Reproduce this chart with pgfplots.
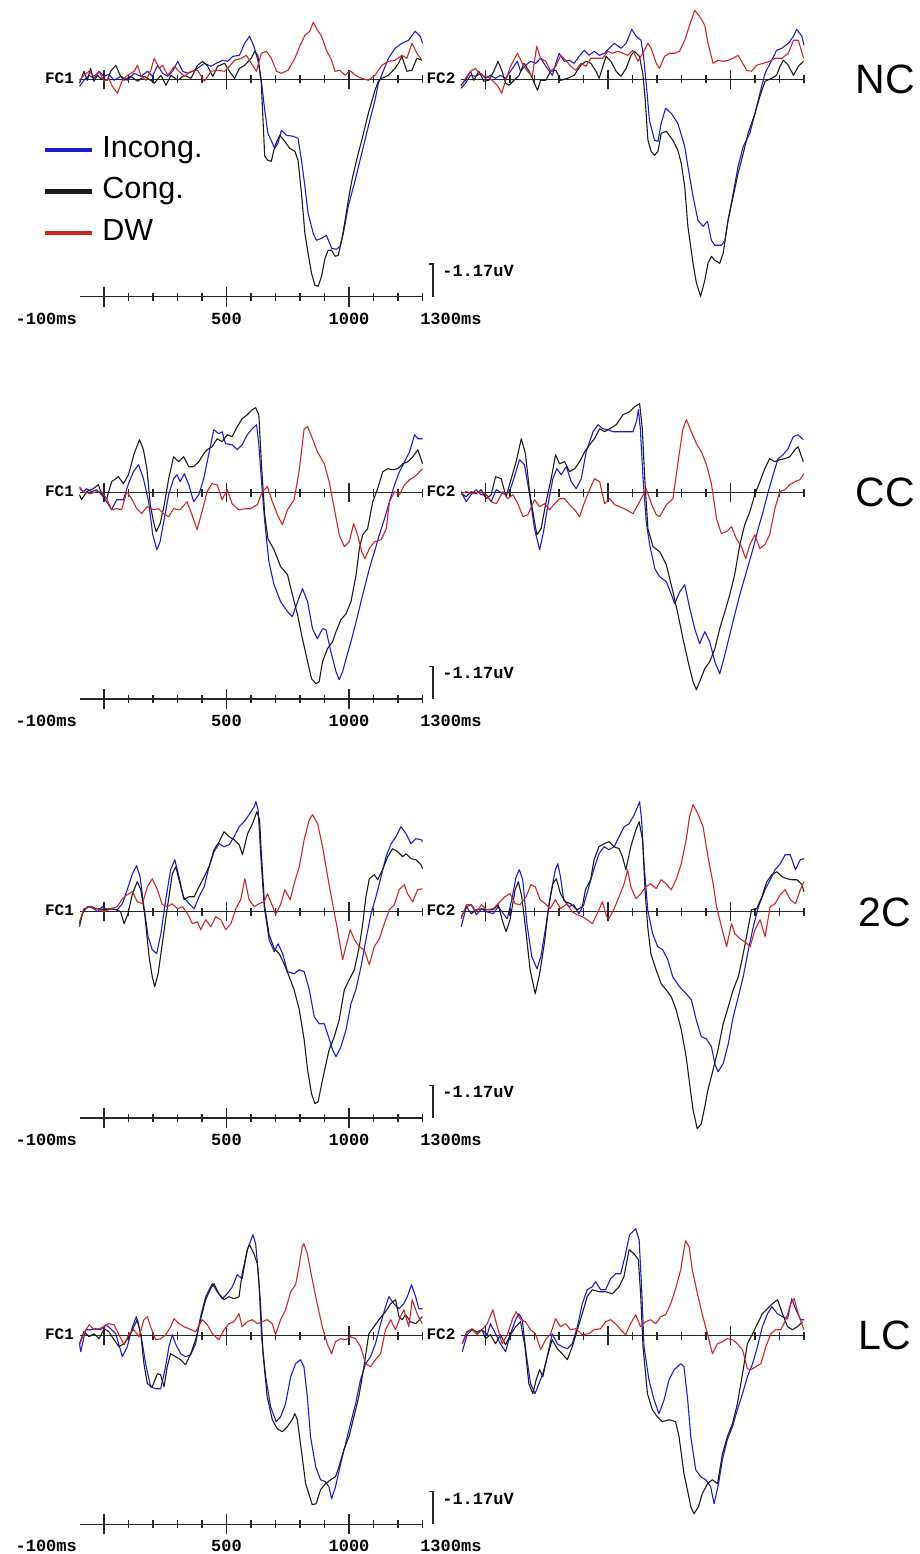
\documentclass[border=0pt]{standalone}
\usepackage{fontspec}
\setmainfont{Liberation Sans}
\newfontfamily\scopefont{Liberation Mono}
\usepackage{pgfplots}
\pgfplotsset{compat=1.18}

\definecolor{incong}{RGB}{28,28,215}
\definecolor{cong}{RGB}{28,28,28}
\definecolor{dw}{RGB}{205,38,38}

% amplitudes are in reference pixels above the baseline (32.7 units = 1.17 uV, negative up)
\pgfplotsset{
  erp/.style={anchor=origin, x=0.245pt, y=1pt, xmin=-100, xmax=1300, ymin=-230, ymax=80,
    axis x line=middle, axis y line=none,
    axis line style={-, line width=1.4pt, black!85},
    every inner x axis line/.append style={-},
    xtick={0,500,1000}, minor xtick={100,200,300,400,600,700,800,900,1100,1200,1300},
    xticklabels={,,}, tick align=center, major tick length=19pt, minor tick length=8pt,
    tick style={line width=1.2pt, black!85},
    clip=false, every axis plot/.append style={line width=1.1pt, line join=round}},
  timeaxis/.style={anchor=origin, x=0.245pt, y=1pt, xmin=-100, xmax=1300, ymax=0,
    axis x line=bottom, axis y line=none,
    axis line style={-, line width=1.4pt, black!85},
    every outer x axis line/.append style={-},
    xtick={0,500,1000}, minor xtick={100,200,300,400,600,700,800,900,1100,1200,1300},
    xticklabels={,,}, tick align=center, major tick length=20pt, minor tick length=8pt,
    tick style={line width=1.2pt, black!85}, clip=false},
}
\tikzset{
  fclab/.style={anchor=east, inner sep=0pt, font=\scopefont\bfseries\fontsize{16}{16}\selectfont},
  tlab/.style={inner sep=0pt, font=\scopefont\bfseries\fontsize{17}{17}\selectfont},
  rowlab/.style={inner sep=0pt, font=\fontsize{41}{41}\selectfont},
}
\newcommand{\timeextras}[1]{%
  \node[tlab, anchor=north east, yshift=-16pt] at (axis cs:-110,#1) {-100ms};
  \node[tlab, anchor=north, yshift=-16pt] at (axis cs:500,#1) {500};
  \node[tlab, anchor=north, yshift=-16pt] at (axis cs:1000,#1) {1000};
  \node[tlab, anchor=north west, yshift=-16pt] at (axis cs:1290,#1) {1300ms};
  \draw[line width=1.3pt, black!85] ([yshift=32.7pt]axis cs:1326,#1) -- ([yshift=32.7pt]axis cs:1343,#1) -- (axis cs:1343,#1);
  \node[tlab, anchor=west, yshift=25.7pt] at (axis cs:1380,#1) {-1.17uV};
}

\begin{document}
\begin{tikzpicture}
\path[use as bounding box] (0pt,0pt) rectangle (920pt,-1554pt);

\node[rowlab] at (885pt,-79pt) {NC};
\node[rowlab] at (885pt,-492pt) {CC};
\node[rowlab] at (885pt,-912pt) {2C};
\node[rowlab] at (885pt,-1335pt) {LC};

% ---------------- NC ----------------
\begin{axis}[erp, at={(104pt,-79.3pt)},
  legend style={at={(axis cs:-249,-56)}, anchor=north west, draw=none, fill=none, inner sep=0pt,
    row sep=12.5pt, font=\fontsize{30.5}{30.5}\selectfont,
    nodes={inner sep=0pt, text height=22pt, text depth=7pt}},
  legend cell align=left,
  legend image code/.code={\path[draw=none, fill=none] (0pt,0pt) -- (57pt,0pt);\draw[#1, line width=4.5pt] (0pt,0pt) -- (47pt,0pt);}]
\addplot[color=incong] coordinates {(-100,-7)(-82,-1)(-61,4)(-41,1)(-20,8)(0,3)(20,5)(41,-1)(68,3)(96,-1)(123,6)(150,3)(178,8)(198,3)(219,14)(239,6)(260,3)(280,8)(301,18)(321,8)(342,6)(362,8)(382,11)(410,16)(437,13)(458,16)(485,19)(505,18)(526,23)(553,24)(574,36)(594,43)(612,33)(628,19)(642,-1)(656,-31)(669,-54)(697,-69)(710,-64)(724,-51)(745,-56)(772,-57)(792,-59)(806,-81)(820,-107)(833,-134)(854,-154)(867,-161)(888,-159)(908,-156)(929,-169)(949,-170)(963,-167)(977,-154)(997,-127)(1025,-101)(1052,-74)(1079,-47)(1106,-21)(1120,-4)(1141,9)(1161,21)(1188,31)(1216,36)(1243,39)(1270,48)(1291,43)(1300,36)};
\addplot[color=cong] coordinates {(-100,-4)(-82,8)(-68,-1)(-55,11)(-41,-2)(-27,4)(-14,1)(14,-1)(27,8)(48,14)(68,3)(82,-1)(109,3)(137,-2)(164,3)(191,-1)(205,-4)(232,4)(253,-6)(273,4)(301,-1)(328,4)(355,1)(382,14)(403,18)(423,13)(444,3)(464,13)(492,16)(512,8)(533,1)(553,11)(574,14)(601,21)(615,28)(628,24)(642,-4)(656,-77)(669,-81)(683,-82)(697,-67)(717,-56)(738,-62)(758,-69)(779,-72)(792,-81)(806,-114)(820,-154)(833,-174)(847,-194)(861,-206)(874,-207)(888,-197)(902,-179)(915,-171)(929,-171)(943,-177)(956,-176)(970,-161)(984,-141)(997,-121)(1011,-102)(1025,-87)(1038,-74)(1052,-61)(1066,-47)(1079,-34)(1093,-22)(1106,-11)(1120,-2)(1134,1)(1161,4)(1188,11)(1202,16)(1216,23)(1236,8)(1257,9)(1277,21)(1298,19)};
\addplot[color=dw] coordinates {(-100,-1)(-82,4)(-61,8)(-41,3)(-20,8)(0,-2)(20,1)(34,-7)(55,-14)(75,-1)(96,4)(123,8)(137,14)(150,4)(171,-1)(191,9)(205,21)(225,11)(239,14)(260,4)(287,13)(307,8)(328,3)(355,8)(382,9)(410,-2)(437,8)(464,9)(492,8)(512,13)(533,19)(560,21)(581,24)(601,16)(622,8)(642,26)(663,28)(683,21)(704,8)(724,6)(751,9)(779,21)(799,33)(820,44)(840,48)(854,57)(867,51)(888,43)(908,29)(929,19)(943,8)(963,9)(984,4)(1004,9)(1025,4)(1052,1)(1079,-1)(1106,4)(1134,14)(1161,18)(1188,19)(1216,24)(1236,21)(1257,36)(1277,26)(1298,19)};
\legend{Incong.,Cong.,DW}
\node[fclab] at (axis cs:-122,1) {FC1};
\end{axis}
\begin{axis}[timeaxis, at={(104pt,-79.3pt)}, ymin=-217.4]
\timeextras{-217.4}
\end{axis}

\begin{axis}[erp, at={(485.5pt,-79.3pt)}]
\addplot[color=incong] coordinates {(-100,-9)(-82,-4)(-61,4)(-41,3)(-20,6)(0,1)(20,4)(41,1)(61,4)(82,1)(102,8)(130,18)(143,8)(164,14)(184,18)(205,16)(225,21)(246,13)(273,4)(287,16)(301,26)(321,18)(342,19)(362,16)(382,23)(403,29)(423,24)(444,28)(464,24)(485,26)(505,31)(526,36)(553,31)(574,36)(597,50)(615,43)(635,39)(646,21)(657,-7)(669,-41)(690,-61)(704,-62)(717,-44)(735,-29)(758,-34)(785,-44)(813,-67)(826,-87)(847,-117)(867,-141)(888,-147)(906,-142)(922,-161)(936,-166)(963,-166)(977,-161)(990,-141)(1011,-114)(1031,-87)(1052,-67)(1079,-54)(1100,-34)(1120,-14)(1141,6)(1168,19)(1188,29)(1209,31)(1236,36)(1257,43)(1270,50)(1291,43)(1300,34)};
\addplot[color=cong] coordinates {(-100,-6)(-82,-1)(-61,8)(-48,-1)(-27,8)(-7,-2)(14,-1)(34,8)(51,18)(68,8)(82,-4)(96,-6)(116,-1)(137,4)(157,16)(178,8)(191,1)(212,-11)(225,-1)(246,-1)(266,8)(287,9)(307,-1)(335,1)(362,4)(389,14)(410,18)(430,16)(451,8)(464,1)(492,23)(512,18)(533,8)(553,3)(574,11)(594,24)(608,28)(628,23)(642,6)(652,-21)(663,-61)(676,-72)(690,-76)(704,-72)(717,-54)(738,-52)(765,-61)(785,-71)(799,-84)(813,-107)(826,-147)(847,-184)(861,-204)(878,-217)(895,-201)(908,-184)(922,-177)(936,-181)(956,-184)(970,-174)(990,-141)(1011,-117)(1031,-94)(1052,-74)(1072,-54)(1100,-34)(1120,-17)(1141,-2)(1168,1)(1188,4)(1202,13)(1216,19)(1236,14)(1257,4)(1277,13)(1298,18)};
\addplot[color=dw] coordinates {(-100,-7)(-82,1)(-61,8)(-41,11)(-20,4)(7,3)(27,-1)(48,-6)(66,-14)(82,-1)(102,13)(130,26)(150,16)(171,8)(191,3)(209,33)(225,21)(246,18)(266,8)(287,13)(307,24)(328,19)(348,13)(369,9)(389,16)(410,13)(430,21)(451,21)(478,21)(499,28)(519,26)(540,28)(560,26)(581,24)(601,29)(622,18)(642,26)(663,36)(676,31)(697,16)(710,11)(731,23)(751,26)(772,26)(792,28)(813,39)(833,54)(854,69)(874,63)(895,54)(908,36)(929,16)(949,19)(970,18)(990,19)(1011,21)(1031,24)(1045,18)(1066,9)(1086,8)(1106,14)(1134,16)(1161,18)(1182,21)(1209,21)(1236,26)(1257,39)(1277,39)(1298,21)};
\node[fclab] at (axis cs:-122,1) {FC2};
\end{axis}

% ---------------- CC ----------------
\begin{axis}[erp, at={(104pt,-492.7pt)}]
\addplot[color=incong] coordinates {(-100,4)(-85,1)(-71,4)(-51,1)(-30,3)(-10,-2)(11,-9)(31,-17)(52,-7)(79,-7)(100,9)(120,21)(141,28)(161,14)(182,-9)(199,-42)(216,-57)(229,-49)(246,-26)(264,-2)(284,14)(298,18)(311,11)(328,19)(346,8)(366,-9)(387,-2)(407,14)(428,39)(448,63)(469,59)(482,61)(496,49)(523,48)(544,43)(564,48)(585,58)(605,64)(623,68)(632,48)(642,14)(656,-29)(673,-69)(694,-92)(721,-109)(749,-119)(769,-124)(790,-109)(810,-96)(831,-109)(851,-136)(871,-146)(892,-136)(906,-137)(926,-159)(947,-179)(960,-187)(974,-179)(988,-166)(1008,-149)(1029,-129)(1056,-102)(1083,-76)(1104,-59)(1124,-42)(1145,-26)(1165,-9)(1186,8)(1206,21)(1227,31)(1247,41)(1268,58)(1281,54)(1300,54)};
\addplot[color=cong] coordinates {(-100,-2)(-92,-7)(-71,1)(-44,4)(-23,8)(-10,-1)(11,-6)(31,11)(59,16)(79,9)(100,18)(123,39)(145,53)(161,43)(175,24)(189,-12)(202,-29)(213,-39)(229,-31)(246,-12)(264,14)(284,36)(305,31)(325,36)(346,26)(366,26)(387,31)(407,39)(421,43)(441,46)(462,54)(482,51)(503,58)(523,56)(544,66)(564,74)(585,78)(605,83)(619,85)(632,78)(642,31)(656,-22)(669,-46)(694,-57)(721,-74)(749,-82)(769,-102)(790,-122)(810,-146)(831,-169)(847,-186)(865,-191)(878,-189)(892,-169)(912,-156)(933,-149)(947,-139)(967,-127)(988,-121)(1008,-109)(1029,-82)(1042,-56)(1056,-42)(1076,-36)(1097,-9)(1117,4)(1138,21)(1158,24)(1179,23)(1199,24)(1220,29)(1240,31)(1261,36)(1281,43)(1300,29)};
\addplot[color=dw] coordinates {(-100,6)(-85,1)(-57,-1)(-30,1)(-10,1)(11,-6)(31,-17)(52,-16)(72,-17)(93,1)(113,-6)(134,-16)(154,-21)(175,-14)(202,-17)(223,-16)(243,-21)(264,-24)(284,-16)(311,-17)(339,-9)(359,-22)(380,-37)(400,-19)(421,1)(441,9)(462,8)(482,-7)(503,3)(523,-11)(550,-17)(578,-16)(598,-16)(626,-12)(646,1)(667,6)(687,-9)(708,-22)(728,-32)(749,-17)(776,-7)(796,21)(817,64)(831,66)(851,54)(871,41)(899,29)(919,11)(940,-16)(960,-42)(981,-54)(1001,-49)(1019,-31)(1035,-42)(1052,-59)(1065,-66)(1083,-56)(1104,-49)(1131,-47)(1152,-36)(1165,-9)(1186,1)(1206,-2)(1227,8)(1247,13)(1268,16)(1288,21)(1300,24)};
\node[fclab] at (axis cs:-122,1) {FC1};
\end{axis}
\begin{axis}[timeaxis, at={(104pt,-492.7pt)}, ymin=-206.3]
\timeextras{-206.3}
\end{axis}

\begin{axis}[erp, at={(485.5pt,-492.7pt)}]
\addplot[color=incong] coordinates {(-99,1)(-79,-9)(-59,-2)(-38,3)(-18,-2)(3,-2)(23,-9)(44,3)(71,-1)(98,1)(118,16)(139,33)(159,28)(180,-2)(200,-36)(221,-57)(237,-39)(255,-12)(275,14)(291,24)(309,18)(330,26)(350,11)(370,4)(391,14)(411,41)(439,61)(459,68)(479,64)(500,63)(520,61)(548,61)(575,61)(602,61)(616,71)(624,83)(632,64)(643,14)(656,-29)(670,-52)(691,-76)(711,-84)(738,-89)(759,-102)(772,-111)(793,-99)(813,-92)(834,-116)(854,-136)(874,-151)(895,-139)(915,-149)(936,-169)(956,-181)(977,-162)(997,-142)(1017,-122)(1038,-102)(1065,-79)(1092,-56)(1113,-36)(1133,-19)(1154,1)(1174,18)(1194,34)(1215,38)(1235,44)(1256,56)(1276,58)(1297,53)};
\addplot[color=cong] coordinates {(-99,-1)(-79,-4)(-59,1)(-38,-1)(-18,3)(3,-6)(23,-2)(41,16)(64,14)(84,-4)(105,14)(125,31)(146,54)(163,39)(180,1)(200,-29)(210,-42)(227,-36)(245,-12)(268,14)(286,38)(302,29)(323,31)(343,21)(364,24)(384,31)(405,41)(425,48)(445,54)(466,64)(486,61)(507,64)(534,68)(561,78)(588,81)(609,86)(629,89)(640,64)(650,14)(663,-36)(684,-54)(711,-59)(738,-72)(765,-99)(786,-122)(806,-146)(827,-169)(847,-189)(861,-197)(874,-189)(895,-176)(915,-169)(936,-156)(956,-136)(977,-119)(997,-102)(1017,-82)(1038,-52)(1058,-32)(1079,-19)(1099,-2)(1120,11)(1140,24)(1160,34)(1181,31)(1201,33)(1222,34)(1242,36)(1263,43)(1276,46)(1297,31)};
\addplot[color=dw] coordinates {(-99,-1)(-79,1)(-52,-1)(-25,1)(3,-2)(23,-9)(44,-11)(71,1)(91,-6)(112,-2)(132,-11)(153,-24)(173,-22)(200,-7)(221,-14)(241,-11)(262,-17)(282,-11)(302,-6)(323,-6)(343,-12)(364,-17)(384,-24)(405,-9)(425,3)(445,14)(466,11)(486,-11)(507,-6)(527,-12)(548,-14)(575,-17)(602,-21)(629,-9)(656,4)(677,-11)(697,-22)(711,-24)(738,-12)(765,-6)(786,31)(806,64)(820,73)(840,61)(861,49)(881,41)(902,28)(922,9)(943,-26)(963,-41)(983,-39)(1004,-34)(1024,-46)(1045,-54)(1062,-66)(1079,-52)(1099,-42)(1120,-56)(1140,-52)(1160,-42)(1181,-16)(1201,1)(1222,3)(1242,8)(1263,11)(1283,13)(1300,19)};
\node[fclab] at (axis cs:-122,1) {FC2};
\end{axis}

% ---------------- 2C ----------------
\begin{axis}[erp, at={(104pt,-911.7pt)}]
\addplot[color=incong] coordinates {(-100,-15)(-89,-2)(-68,5)(-48,5)(-27,0)(-7,5)(14,2)(34,3)(54,2)(75,8)(95,22)(116,38)(133,46)(147,35)(163,5)(180,-25)(197,-38)(215,-42)(232,-22)(252,12)(272,42)(289,52)(306,35)(324,15)(347,8)(368,3)(388,15)(409,25)(429,45)(449,60)(470,68)(490,65)(511,67)(531,75)(552,85)(572,90)(592,97)(613,105)(620,110)(629,102)(640,55)(654,5)(674,-28)(695,-40)(711,-32)(729,-42)(749,-60)(776,-62)(797,-58)(817,-60)(838,-78)(858,-105)(878,-112)(899,-112)(919,-127)(933,-138)(947,-145)(967,-135)(988,-118)(1008,-92)(1028,-78)(1049,-55)(1069,-28)(1090,-2)(1110,15)(1131,35)(1151,55)(1172,68)(1192,75)(1212,85)(1233,78)(1253,68)(1273,73)(1294,72)(1300,70)};
\addplot[color=cong] coordinates {(-100,-12)(-82,2)(-61,5)(-41,3)(-20,3)(0,2)(20,3)(48,2)(68,0)(82,-12)(98,-2)(116,18)(136,30)(150,22)(166,-2)(184,-45)(197,-65)(207,-75)(221,-62)(238,-32)(259,5)(279,38)(293,45)(306,32)(327,12)(347,15)(368,15)(388,25)(409,35)(429,45)(449,62)(470,70)(490,80)(511,75)(531,72)(552,67)(565,57)(586,78)(606,88)(624,100)(635,92)(643,55)(656,5)(674,-23)(695,-37)(715,-42)(735,-52)(756,-65)(776,-78)(797,-98)(817,-128)(831,-158)(847,-182)(861,-192)(874,-190)(892,-168)(906,-152)(919,-138)(940,-125)(960,-108)(981,-78)(1001,-68)(1022,-58)(1042,-35)(1056,-12)(1069,15)(1083,33)(1103,37)(1117,32)(1137,42)(1158,55)(1178,63)(1199,60)(1219,55)(1233,58)(1253,53)(1273,52)(1294,47)(1300,43)};
\addplot[color=dw] coordinates {(-100,-10)(-82,3)(-55,5)(-27,3)(0,0)(27,3)(54,5)(75,13)(95,17)(116,20)(136,10)(157,8)(177,25)(197,33)(218,22)(238,7)(259,5)(279,8)(300,3)(320,5)(341,-2)(361,-12)(381,-10)(395,-18)(415,-8)(436,-15)(456,-5)(477,-8)(497,-18)(518,-12)(538,3)(558,12)(575,33)(592,12)(613,5)(633,8)(654,10)(667,18)(684,8)(701,-3)(722,8)(738,22)(760,12)(776,28)(797,45)(817,72)(838,92)(851,97)(872,88)(892,65)(913,35)(933,8)(953,-18)(974,-48)(987,-35)(1005,-18)(1022,-28)(1042,-35)(1062,-38)(1083,-53)(1103,-35)(1124,-27)(1144,-12)(1165,2)(1185,7)(1205,22)(1226,27)(1239,18)(1260,10)(1280,22)(1300,23)};
\node[fclab] at (axis cs:-122,1) {FC1};
\end{axis}
\begin{axis}[timeaxis, at={(104pt,-911.7pt)}, ymin=-206.3]
\timeextras{-206.3}
\end{axis}

\begin{axis}[erp, at={(485.5pt,-911.7pt)}]
\addplot[color=incong] coordinates {(-99,-15)(-78,5)(-58,7)(-37,-3)(-16,3)(4,0)(32,-2)(52,5)(73,-2)(89,-7)(107,12)(125,35)(138,42)(152,32)(169,-12)(189,-45)(210,-57)(226,-45)(244,-18)(264,15)(285,42)(295,48)(306,35)(319,12)(340,5)(360,7)(381,-2)(401,7)(422,25)(443,43)(463,58)(484,65)(504,62)(525,65)(545,75)(566,85)(586,88)(607,97)(621,105)(629,110)(637,92)(648,45)(662,2)(682,-22)(703,-35)(723,-38)(744,-48)(764,-65)(792,-75)(819,-82)(840,-88)(860,-108)(881,-125)(901,-127)(922,-135)(936,-152)(949,-160)(970,-152)(991,-132)(1011,-105)(1032,-85)(1052,-65)(1073,-38)(1093,-15)(1114,5)(1141,22)(1162,32)(1182,42)(1203,48)(1223,57)(1244,57)(1265,42)(1285,52)(1300,53)};
\addplot[color=cong] coordinates {(-99,-5)(-78,5)(-58,-2)(-37,2)(-16,3)(4,2)(32,2)(52,7)(70,-10)(84,-20)(100,-8)(121,22)(134,30)(148,15)(166,-22)(182,-58)(203,-82)(221,-62)(240,-32)(258,5)(275,28)(289,33)(306,18)(326,10)(347,8)(374,2)(395,5)(408,22)(429,32)(443,52)(463,65)(484,68)(504,70)(525,65)(545,63)(559,55)(573,42)(593,65)(614,82)(627,90)(641,72)(651,22)(662,-15)(675,-42)(696,-58)(717,-72)(737,-78)(758,-85)(778,-98)(799,-118)(819,-145)(833,-172)(847,-198)(864,-217)(881,-212)(895,-195)(908,-178)(929,-158)(949,-138)(970,-112)(991,-95)(1011,-78)(1032,-65)(1052,-42)(1073,-15)(1086,2)(1107,3)(1128,15)(1148,30)(1169,37)(1189,40)(1210,35)(1230,33)(1251,32)(1271,32)(1292,27)(1300,20)};
\addplot[color=dw] coordinates {(-99,-7)(-78,7)(-58,7)(-37,0)(-16,7)(4,2)(32,3)(59,10)(79,15)(100,18)(121,8)(141,7)(166,15)(185,27)(203,25)(223,12)(244,8)(264,3)(285,12)(306,3)(333,8)(353,0)(374,-3)(395,-5)(415,-8)(436,-12)(456,-2)(477,10)(495,-5)(504,-7)(525,3)(545,15)(566,28)(580,42)(593,25)(614,13)(634,18)(655,25)(675,28)(696,23)(717,32)(737,28)(758,22)(778,32)(799,48)(819,72)(833,95)(847,107)(867,98)(888,85)(908,55)(929,28)(943,5)(963,-15)(984,-35)(1004,-12)(1018,-22)(1038,-27)(1059,-30)(1080,-35)(1100,-18)(1121,-8)(1141,-25)(1162,5)(1182,8)(1203,17)(1223,22)(1244,12)(1265,8)(1285,22)(1300,30)};
\node[fclab] at (axis cs:-122,1) {FC2};
\end{axis}

% ---------------- LC ----------------
\begin{axis}[erp, at={(104pt,-1335.7pt)}]
\addplot[color=incong] coordinates {(-100,-8)(-95,-16)(-75,6)(-54,6)(-34,7)(-14,6)(7,11)(27,7)(48,2)(75,-21)(95,-11)(116,9)(132,19)(150,2)(170,-28)(190,-51)(211,-53)(231,-53)(249,-34)(265,-11)(279,1)(292,-8)(313,-18)(333,-21)(354,-19)(374,-8)(394,19)(415,39)(442,52)(462,44)(483,37)(503,42)(524,49)(544,61)(564,57)(585,86)(608,101)(619,92)(632,56)(643,-1)(660,-41)(680,-71)(703,-86)(721,-81)(741,-68)(762,-41)(782,-28)(802,-24)(816,-31)(830,-61)(843,-101)(864,-131)(884,-144)(904,-146)(918,-151)(929,-163)(945,-151)(966,-128)(986,-108)(1006,-88)(1027,-68)(1047,-44)(1068,-28)(1088,-21)(1108,-8)(1129,12)(1149,29)(1163,39)(1183,32)(1204,27)(1224,32)(1238,39)(1255,51)(1272,39)(1285,27)(1299,27)};
\addplot[color=cong] coordinates {(-100,-8)(-82,4)(-61,-1)(-41,2)(-20,-3)(0,7)(20,4)(41,-4)(61,-11)(82,-8)(102,-1)(122,9)(136,16)(150,2)(163,-28)(177,-48)(197,-51)(218,-38)(231,-39)(245,-51)(258,-31)(272,-18)(292,-21)(313,-24)(333,-29)(354,-18)(374,-4)(394,16)(415,36)(435,47)(449,52)(469,42)(490,36)(510,39)(530,37)(551,39)(564,62)(585,86)(594,91)(612,82)(626,72)(639,32)(649,-18)(666,-61)(687,-84)(707,-93)(728,-96)(748,-91)(768,-84)(779,-78)(789,-84)(809,-121)(823,-148)(836,-158)(850,-169)(866,-168)(884,-154)(904,-148)(925,-144)(945,-141)(959,-131)(979,-114)(1000,-101)(1020,-81)(1040,-61)(1061,-31)(1081,2)(1102,9)(1122,16)(1149,24)(1170,32)(1190,36)(1204,19)(1217,16)(1231,21)(1251,14)(1272,12)(1299,19)};
\addplot[color=dw] coordinates {(-100,-9)(-82,2)(-61,11)(-41,6)(-20,7)(0,9)(20,12)(41,11)(61,1)(82,-9)(102,2)(122,6)(143,-1)(163,16)(177,19)(190,9)(211,-4)(231,-3)(252,1)(272,9)(286,17)(306,12)(326,9)(347,7)(374,4)(401,16)(422,11)(442,2)(469,-4)(490,6)(510,12)(530,14)(551,22)(564,9)(585,14)(605,16)(626,12)(646,14)(666,16)(687,12)(700,1)(721,16)(741,26)(762,44)(782,51)(796,69)(809,89)(816,92)(830,82)(850,56)(870,32)(891,9)(911,-8)(929,-18)(945,-6)(966,-3)(986,-4)(1006,-1)(1027,-3)(1047,-11)(1068,-28)(1088,-31)(1108,-24)(1129,-18)(1149,6)(1170,16)(1190,6)(1210,19)(1224,26)(1244,9)(1258,36)(1278,22)(1299,12)};
\node[fclab] at (axis cs:-122,1) {FC1};
\end{axis}
\begin{axis}[timeaxis, at={(104pt,-1335.7pt)}, ymin=-188.6]
\timeextras{-188.6}
\end{axis}

\begin{axis}[erp, at={(485.5pt,-1335.7pt)}]
\addplot[color=incong] coordinates {(-95,-16)(-75,1)(-54,6)(-34,4)(-14,6)(7,1)(20,12)(41,2)(61,-8)(82,-16)(102,2)(123,16)(136,22)(150,16)(166,-18)(184,-48)(202,-58)(218,-48)(234,-38)(252,-21)(272,2)(293,-8)(313,-11)(334,-13)(354,-8)(375,9)(395,32)(415,46)(436,49)(449,54)(470,46)(490,46)(511,57)(531,62)(552,62)(569,79)(588,101)(613,107)(627,96)(637,49)(647,-11)(667,-44)(688,-64)(708,-78)(729,-64)(749,-44)(770,-34)(797,-28)(810,-31)(824,-61)(838,-101)(858,-134)(878,-141)(899,-144)(919,-151)(933,-168)(951,-148)(967,-124)(987,-104)(1008,-91)(1028,-74)(1049,-58)(1069,-41)(1090,-28)(1110,-11)(1130,9)(1151,22)(1169,29)(1192,22)(1212,19)(1233,17)(1250,37)(1267,26)(1287,16)(1300,16)};
\addplot[color=cong] coordinates {(-95,-8)(-75,4)(-54,6)(-34,2)(-14,6)(0,-3)(20,1)(41,-8)(61,1)(82,-9)(102,1)(123,9)(143,14)(161,-11)(177,-48)(193,-58)(207,-44)(221,-34)(234,-41)(252,-21)(272,-4)(293,-13)(313,-18)(334,-24)(354,-11)(375,6)(395,22)(415,39)(436,46)(463,44)(490,44)(518,42)(545,49)(565,59)(586,86)(606,82)(624,76)(633,42)(643,-11)(661,-58)(681,-74)(701,-81)(722,-86)(749,-84)(776,-86)(790,-101)(810,-138)(824,-154)(838,-171)(851,-178)(869,-171)(885,-158)(906,-148)(926,-144)(947,-148)(967,-118)(987,-101)(1008,-88)(1028,-68)(1049,-38)(1069,-8)(1090,2)(1110,12)(1130,22)(1151,27)(1171,32)(1192,36)(1212,22)(1233,9)(1253,6)(1273,9)(1294,14)};
\addplot[color=dw] coordinates {(-95,-8)(-75,4)(-54,7)(-34,1)(-14,6)(7,12)(30,26)(48,9)(68,-8)(89,1)(109,16)(125,24)(143,16)(163,14)(184,6)(204,2)(225,-14)(245,-4)(266,2)(286,17)(306,9)(327,12)(347,6)(368,7)(395,1)(422,2)(443,6)(470,7)(490,14)(511,16)(531,12)(552,6)(572,1)(592,12)(613,21)(633,9)(654,14)(674,16)(695,12)(715,19)(735,21)(756,32)(776,47)(797,66)(810,86)(817,95)(831,89)(844,66)(865,42)(885,21)(906,2)(926,-18)(947,-8)(967,-6)(987,-3)(1008,-4)(1028,-8)(1049,-14)(1069,-33)(1083,-34)(1103,-31)(1124,-28)(1144,-11)(1165,2)(1185,6)(1205,6)(1226,16)(1246,32)(1260,37)(1280,19)(1300,6)};
\node[fclab] at (axis cs:-122,1) {FC2};
\end{axis}

\end{tikzpicture}
\end{document}
